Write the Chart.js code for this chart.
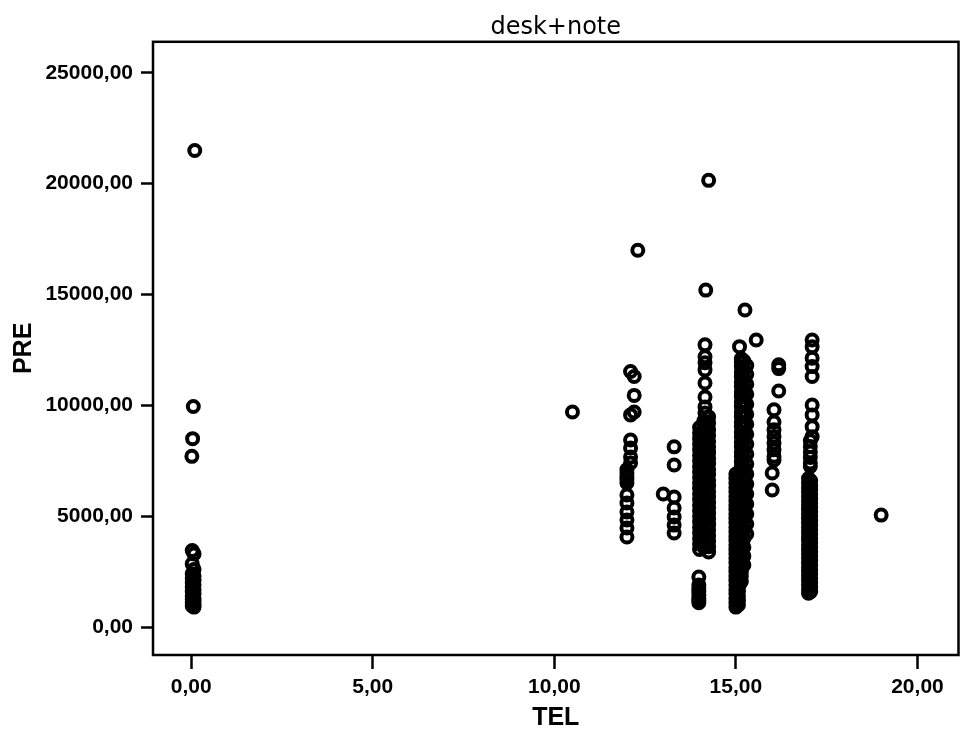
<!DOCTYPE html>
<html>
<head>
<meta charset="utf-8">
<title>desk+note</title>
<script src="https://cdn.jsdelivr.net/npm/chart.js@4.4.1/dist/chart.umd.min.js"></script>
<style>
  html, body { margin: 0; padding: 0; background: #fff; }
  canvas { display: block; }
</style>
</head>
<body>
<canvas id="scatterChart" width="968" height="736"></canvas>
<script>
// tick values of both axes
const xTicks = [0, 5, 10, 15, 20];
const yTicks = [0, 5000, 10000, 15000, 20000, 25000];

// isolated points (TEL, PRE)
const singleTel = [0.1, 0.06, 0.04, 0.02, 10.5, 12.3, 14.25, 14.17, 15.25, 15.56, 15.1, 13.0, 19.0];
const singlePre = [21500, 9950, 8500, 7700, 9700, 17000, 20150, 15200, 14300, 12950, 12650, 6000, 5050];

// vertical columns of points: one TEL value each, PRE values read top to bottom
const columnTel = [0.03, 0.08, 12.1, 12.2, 12.0, 13.3, 13.98, 14.15, 14.0, 14.12, 14.25,
                   15.0, 15.07, 15.15, 15.22, 15.3, 16.18, 16.05, 16.0, 17.1, 17.05, 17.0, 17.06];
const columnPre = [
    [3450, 2850, 2400, 2200, 2000, 1800, 1600, 1400, 1250, 1100, 950],
    [3300, 2600, 2300, 2100, 1900, 1700, 1500, 1300, 1150, 1000, 900],
    [11530, 9570, 8440, 8080, 7670, 7400],
    [11300, 10450, 9700],
    [7100, 6950, 6800, 6650, 6500, 5960, 5600, 5190, 4830, 4470, 4060],
    [8130, 7310, 5870, 5370, 4970, 4600, 4240],
    [2260, 1900, 1750, 1600, 1450, 1300, 1200, 1100],
    [12730, 12190, 11920, 11600, 11010, 10380, 9930, 9660],
    [9000, 8750, 8500, 8250, 8000, 7750, 7500, 7250, 7000, 6750, 6500, 6250, 6000,
     5750, 5500, 5250, 5000, 4750, 4500, 4250, 4000, 3750, 3500],
    [9300, 9100, 8850, 8600, 8350, 8100, 7850, 7600, 7350, 7100, 6850, 6600, 6350,
     6100, 5850, 5600, 5350, 5100, 4850, 4600, 4350, 4100, 3850, 3600],
    [9480, 9200, 8900, 8650, 8380, 8120, 7870, 7620, 7380, 7120, 6880, 6620, 6380,
     6120, 5880, 5620, 5380, 5120, 4880, 4620, 4380, 4120, 3880, 3620, 3390],
    [6900, 6700, 6500, 6300, 6100, 5900, 5700, 5500, 5300, 5100, 4900, 4700, 4500,
     4300, 4100, 3900, 3700, 3500, 3300, 3100, 2900, 2700, 2500, 2300, 2100, 1900,
     1700, 1500, 1300, 1100, 900],
    [6800, 6600, 6400, 6200, 6000, 5800, 5600, 5400, 5200, 5000, 4800, 4600, 4400,
     4200, 4000, 3800, 3600, 3400, 3200, 3000, 2800, 2600, 2400, 2200, 2000, 1800,
     1600, 1400, 1200, 1000],
    [12100, 11950, 11750, 11500, 11300, 11050, 10850, 10600, 10400, 10150, 9950, 9700,
     9500, 9250, 9050, 8800, 8600, 8350, 8150, 7900, 7700, 7450, 7250, 7000, 6800,
     6550, 6350, 6100, 5900, 5650, 5450, 5200, 5000, 4750, 4550, 4300, 4100, 3850,
     3650, 3400, 3200, 2950, 2750, 2500, 2300, 2050],
    [12000, 11600, 11200, 10800, 10400, 10000, 9600, 9200, 8800, 8400, 8000, 7600,
     7200, 6800, 6400, 6000, 5600, 5200, 4800, 4400, 4000, 3600, 3200, 2800],
    [11800, 11400, 10950, 10500, 10050, 9600, 9150, 8700, 8250, 7800, 7350, 6900,
     6450, 6000, 5550, 5100, 4650, 4200],
    [11830, 11660, 10650],
    [9800, 9250, 8900, 8600, 8300, 8000, 7700, 7540],
    [6950, 6180],
    [12950, 12640, 12130, 11750, 11300, 10020, 9570, 9040, 8590],
    [8400, 8150, 7900, 7650, 7400, 7250],
    [6700, 6500, 6300, 6100, 5900, 5700, 5500, 5300, 5100, 4900, 4700, 4500, 4300,
     4100, 3900, 3700, 3500, 3300, 3100, 2900, 2700, 2500, 2300, 2100, 1900, 1700, 1530],
    [6600, 6400, 6200, 6000, 5800, 5600, 5400, 5200, 5000, 4800, 4600, 4400, 4200,
     4000, 3800, 3600, 3400, 3200, 3000, 2800, 2600, 2400, 2200, 2000, 1800, 1600]
];

const points = [];
singleTel.forEach((t, i) => points.push({ x: t, y: singlePre[i] }));
columnTel.forEach((t, i) => {
    columnPre[i].forEach(p => points.push({ x: t, y: p }));
});

function commaFormat(v) {
    return Number(v).toFixed(2).replace('.', ',');
}

// box around the plot area
const frameBox = {
    id: 'frameBox',
    afterDatasetsDraw(chart) {
        const a = chart.chartArea;
        const ctx = chart.ctx;
        ctx.save();
        ctx.strokeStyle = '#000';
        ctx.lineWidth = 2.5;
        ctx.strokeRect(a.left, a.top, a.right - a.left, a.bottom - a.top);
        ctx.restore();
    }
};

const tickFont = { family: 'Liberation Sans, Arial, sans-serif', size: 21, weight: 'bold' };
const axisTitleFont = { family: 'Liberation Sans, Arial, sans-serif', size: 25, weight: 'bold' };

new Chart(document.getElementById('scatterChart'), {
    type: 'scatter',
    data: {
        datasets: [{
            label: 'PRE',
            data: points,
            pointStyle: 'circle',
            pointRadius: 5.5,
            pointHoverRadius: 5.5,
            borderWidth: 4,
            borderColor: '#000',
            backgroundColor: 'rgba(0,0,0,0)'
        }]
    },
    options: {
        responsive: false,
        animation: false,
        devicePixelRatio: 1,
        layout: { padding: { left: 0, right: 5, top: 0, bottom: 0 } },
        plugins: {
            legend: { display: false },
            tooltip: { enabled: false },
            title: {
                display: true,
                text: 'desk+note',
                fullSize: false,
                color: '#000',
                font: { family: 'DejaVu Sans, sans-serif', size: 24, weight: 'normal' },
                padding: { top: 13, bottom: 0 }
            }
        },
        scales: {
            x: {
                type: 'linear',
                position: 'bottom',
                min: -1.05,
                max: 21.13,
                afterBuildTicks: s => { s.ticks = xTicks.map(v => ({ value: v })); },
                afterFit: s => { s.height = 81; },
                ticks: {
                    color: '#000',
                    font: tickFont,
                    padding: 6,
                    maxRotation: 0,
                    autoSkip: false,
                    callback: v => commaFormat(v)
                },
                grid: {
                    display: true,
                    drawOnChartArea: false,
                    drawTicks: true,
                    tickLength: 14,
                    tickColor: '#000',
                    tickWidth: 2.5
                },
                border: { display: false },
                title: {
                    display: true,
                    text: 'TEL',
                    color: '#000',
                    font: axisTitleFont,
                    padding: { top: 0, bottom: 3 }
                }
            },
            y: {
                type: 'linear',
                min: -1260,
                max: 26400,
                afterBuildTicks: s => { s.ticks = yTicks.map(v => ({ value: v })); },
                afterFit: s => { s.width = 153; },
                ticks: {
                    color: '#000',
                    font: tickFont,
                    padding: 8,
                    autoSkip: false,
                    callback: v => commaFormat(v)
                },
                grid: {
                    display: true,
                    drawOnChartArea: false,
                    drawTicks: true,
                    tickLength: 12,
                    tickColor: '#000',
                    tickWidth: 2.5
                },
                border: { display: false },
                title: {
                    display: true,
                    text: 'PRE',
                    color: '#000',
                    font: axisTitleFont,
                    padding: { top: 9, bottom: 0 }
                }
            }
        }
    },
    plugins: [frameBox]
});
</script>
</body>
</html>
